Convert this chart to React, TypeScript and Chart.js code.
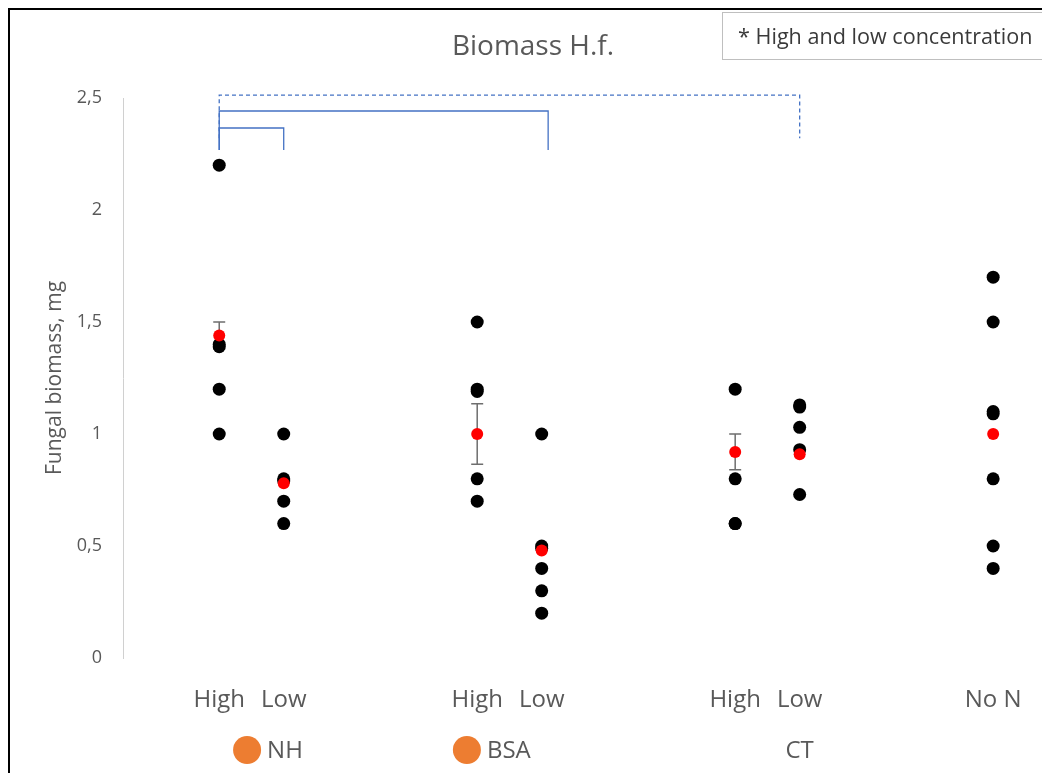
import React, { useEffect, useRef } from "react";
import { Chart, registerables } from "chart.js";

Chart.register(...registerables);

const FONT = "'Open Sans', 'DejaVu Sans', sans-serif";
const TEXT = "#595959";

// Categories and where they sit on the (linear) x axis
const categories = ["NH High", "NH Low", "BSA High", "BSA Low", "CT High", "CT Low", "No N"];
const categoryX = [1, 1.25, 2, 2.25, 3, 3.25, 4];
const tickLabels = ["High", "Low", "High", "Low", "High", "Low", "No N"];

// Individual replicate values (mg)
const nhHigh = [2.2, 1.4, 1.39, 1.2, 1.0];
const nhLow = [1.0, 0.8, 0.79, 0.7, 0.6];
const bsaHigh = [1.5, 1.2, 1.19, 0.8, 0.7];
const bsaLow = [1.0, 0.5, 0.49, 0.4, 0.3, 0.2];
const ctHigh = [1.2, 0.8, 0.6, 0.6];
const ctLow = [1.13, 1.12, 1.03, 0.93, 0.73];
const noN = [1.7, 1.5, 1.1, 1.09, 0.8, 0.5, 0.4];
const samples = [nhHigh, nhLow, bsaHigh, bsaLow, ctHigh, ctLow, noN];

// Means and error (SE)
const means = [1.44, 0.78, 1.0, 0.48, 0.92, 0.91, 1.0];
const errors = [0.06, 0, 0.135, 0, 0.08, 0, 0];

// Y ticks
const yTicks = [0, 0.5, 1, 1.5, 2, 2.5];

// Significance brackets
const bracketFrom = [1, 1, 1];
const bracketTo = [1.25, 2.275, 3.25];
const bracketLevel = [2.366, 2.442, 2.513];
const bracketLegEnd = [2.268, 2.268, 2.32];
const bracketDashed = [false, false, true];

// Bottom legend
const legendNames = ["NH", "BSA", "CT"];
const legendMarker = [true, true, false];
const legendAnchorX = [1.108, 1.96, 3.25];

const titleText = "Biomass H.f.";
const noteText = "* High and low concentration";

const overlayPlugin = {
  id: "overlay",
  beforeDatasetsDraw(chart: any) {
    const { ctx } = chart;
    const xs = chart.scales.x;
    const ys = chart.scales.y;
    ctx.save();
    ctx.strokeStyle = "#6E6E6E";
    ctx.lineWidth = 1.5;
    categoryX.forEach((xv, i) => {
      const e = errors[i];
      if (!e) return;
      const px = xs.getPixelForValue(xv);
      const top = ys.getPixelForValue(means[i] + e);
      const bot = ys.getPixelForValue(means[i] - e);
      ctx.beginPath();
      ctx.moveTo(px, top);
      ctx.lineTo(px, bot);
      ctx.moveTo(px - 6, top);
      ctx.lineTo(px + 6, top);
      ctx.moveTo(px - 6, bot);
      ctx.lineTo(px + 6, bot);
      ctx.stroke();
    });
    ctx.restore();
  },
  afterDraw(chart: any) {
    const { ctx } = chart;
    const xs = chart.scales.x;
    const ys = chart.scales.y;
    ctx.save();

    // title
    ctx.fillStyle = TEXT;
    ctx.font = `28px ${FONT}`;
    ctx.textAlign = "center";
    ctx.textBaseline = "middle";
    ctx.fillText(titleText, 523, 37);

    // brackets
    ctx.strokeStyle = "#4472C4";
    ctx.lineWidth = 1.3;
    bracketFrom.forEach((f, i) => {
      const x1 = xs.getPixelForValue(f);
      const x2 = xs.getPixelForValue(bracketTo[i]);
      const yl = ys.getPixelForValue(bracketLevel[i]);
      const yb = ys.getPixelForValue(bracketLegEnd[i]);
      ctx.setLineDash(bracketDashed[i] ? [4, 3] : []);
      ctx.beginPath();
      ctx.moveTo(x1, yb);
      ctx.lineTo(x1, yl);
      ctx.lineTo(x2, yl);
      ctx.lineTo(x2, yb);
      ctx.stroke();
    });
    ctx.setLineDash([]);

    // note box
    ctx.fillStyle = "#FFFFFF";
    ctx.fillRect(712, 2, 400, 47);
    ctx.strokeStyle = "#BFBFBF";
    ctx.lineWidth = 1;
    ctx.strokeRect(712.5, 2.5, 400, 47);
    ctx.fillStyle = "#3A3A3A";
    ctx.font = `21.6px ${FONT}`;
    ctx.textBaseline = "middle";
    ctx.textAlign = "left";
    ctx.fillText(noteText, 728, 27.5);

    // bottom legend
    const ly = 740;
    ctx.font = `24px ${FONT}`;
    legendNames.forEach((name, i) => {
      const px = xs.getPixelForValue(legendAnchorX[i]);
      if (legendMarker[i]) {
        ctx.fillStyle = "#ED7D31";
        ctx.beginPath();
        ctx.arc(px, ly, 14, 0, Math.PI * 2);
        ctx.fill();
        ctx.fillStyle = TEXT;
        ctx.textAlign = "left";
        ctx.fillText(name, px + 20, ly + 1);
      } else {
        ctx.fillStyle = TEXT;
        ctx.textAlign = "center";
        ctx.fillText(name, px, ly + 1);
      }
    });
    ctx.restore();
  },
};

export default function App() {
  const ref = useRef<HTMLCanvasElement | null>(null);

  useEffect(() => {
    if (!ref.current) return;
    const meanData = categoryX.map((x, i) => ({ x, y: means[i] }));
    const sampleData: { x: number; y: number }[] = [];
    samples.forEach((vals, i) => vals.forEach((v) => sampleData.push({ x: categoryX[i], y: v })));

    const chart = new Chart(ref.current, {
      type: "scatter",
      data: {
        datasets: [
          {
            label: "Mean",
            data: meanData,
            backgroundColor: "#FF0000",
            borderWidth: 0,
            pointRadius: 6,
          },
          {
            label: "Samples",
            data: sampleData,
            backgroundColor: "#000000",
            borderWidth: 0,
            pointRadius: 6.5,
          },
        ],
      },
      options: {
        animation: false,
        responsive: false,
        maintainAspectRatio: false,
        layout: { padding: { left: 0, right: 10, top: 88, bottom: 0 } },
        plugins: {
          legend: { display: false },
          tooltip: { enabled: false },
          title: { display: false },
        },
        scales: {
          x: {
            type: "linear",
            min: 0.627,
            max: 4.154,
            grid: { display: false, drawTicks: false },
            border: { display: false },
            afterBuildTicks: (scale: any) => {
              scale.ticks = categoryX.map((v) => ({ value: v }));
            },
            afterFit: (scale: any) => {
              scale.height = 115;
            },
            ticks: {
              autoSkip: false,
              maxRotation: 0,
              padding: 28,
              color: TEXT,
              font: { family: FONT, size: 24 },
              callback: (_v: any, idx: number) => tickLabels[idx],
            },
          },
          y: {
            min: 0,
            max: 2.5,
            afterBuildTicks: (scale: any) => {
              scale.ticks = yTicks.map((v) => ({ value: v }));
            },
            afterFit: (scale: any) => {
              scale.width = 113;
            },
            grid: { display: false, drawTicks: false },
            border: { display: true, color: "#D0D0D0", width: 1 },
            ticks: {
              padding: 21,
              color: TEXT,
              font: { family: FONT, size: 18 },
              callback: (v: any) => String(v).replace(".", ","),
            },
            title: {
              display: true,
              text: "Fungal biomass, mg",
              color: TEXT,
              font: { family: FONT, size: 21 },
              padding: { top: 32, bottom: 0 },
            },
          },
        },
      },
      plugins: [overlayPlugin],
    } as any);
    return () => chart.destroy();
  }, []);

  return (
    <div
      style={{
        width: 1040,
        height: 763,
        borderTop: "2px solid #000",
        borderLeft: "2px solid #000",
        background: "#fff",
      }}
    >
      <canvas ref={ref} width={1040} height={763} style={{ display: "block" }} />
    </div>
  );
}
